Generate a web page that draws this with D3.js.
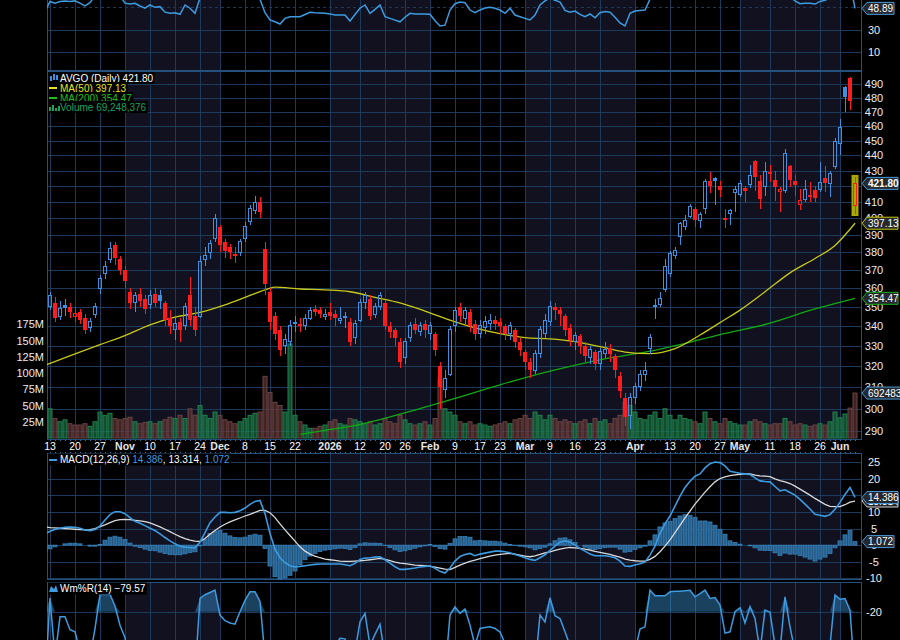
<!DOCTYPE html>
<html>
<head>
<meta charset="utf-8">
<title>AVGO daily</title>
<style>
  body { margin: 0; background: #000; }
  text { font-family: "Liberation Sans", Arial, Helvetica, sans-serif; }
</style>
</head>
<body>
<script src="https://cdn.jsdelivr.net/npm/d3@7/dist/d3.min.js"></script>
<script>
var width = 900, height = 640;
var plotLeft = 47, plotRight = 862;
var firstIdx = -1; // first bar (Oct 10) sits half behind the frame

// x axis: trading-day index (Oct 13 = 0) and label
var tickIdx = [0, 5, 10, 15, 20, 25, 30, 34, 39, 44, 49, 56, 62, 67, 71, 76, 81, 86, 90, 95, 100, 105, 110, 117, 124, 129, 134, 138, 144, 149, 154, 158];
var tickText = ['13', '20', '27', 'Nov', '10', '17', '24', 'Dec', '8', '15', '22', '2026', '12', '20', '26', 'Feb', '9', '17', '23', 'Mar', '9', '16', '23', 'Apr', '13', '20', '27', 'May', '11', '18', '26', 'Jun'];
var shadedMonths = [[15, 34], [56, 76], [95, 117], [138, 158]];

// daily bars
var open = [345, 350, 352, 345, 351, 350, 345, 347, 344, 339,
  346, 360, 368, 376, 384, 376, 370, 358, 352, 357,
  354, 351, 357, 356, 352, 344, 338, 342, 340, 356,
  345, 345, 376, 380, 388, 395, 386, 383, 378, 380,
  388, 398, 405, 410, 382, 358, 345, 338, 330, 332,
  342, 341, 340, 344, 349, 348, 345, 347, 346, 343,
  345, 342, 334, 343, 352, 354, 346, 350, 352, 340,
  338, 332, 324, 334, 341, 337, 341, 336, 336, 320,
  309, 316, 340, 350, 344, 347, 341, 336, 339, 341,
  343, 342, 340, 336, 338, 332, 327, 322, 318, 326,
  336, 342, 350, 348, 345, 339, 332, 335, 330, 324,
  327, 321, 326, 329, 325, 315, 305, 297, 305, 310,
  316, 328.6, 351, 351, 359, 368, 378, 389, 395, 401,
  406, 399, 406, 423, 425.5, 420, 400.5, 403, 416, 415,
  419, 421, 436, 423, 420, 429, 424, 416.4, 417, 433,
  423, 408.5, 411.6, 414.5, 417.5, 418, 425.5, 422, 433, 448.3,
  488, 494.7, 408];
var high = [352, 358, 355, 353, 354, 352, 350, 349, 346, 344,
  352, 367, 375, 386, 386, 378, 372, 360, 358, 360,
  356, 359, 360, 359, 353, 348, 345, 344, 352, 366,
  350, 378, 383, 387, 403, 396, 388, 385, 383, 388,
  398, 408, 414, 413, 386, 360, 347, 340, 336, 343,
  345, 344, 346, 350, 351, 350, 349, 352, 348, 350,
  347, 344, 343, 354, 358, 356, 352, 358, 353, 342,
  339, 334, 334, 342, 344, 342, 343, 342, 337, 322,
  318, 340, 350, 352, 350, 349, 343, 343, 345, 346,
  345, 344, 341, 342, 339, 334, 328, 324, 328, 340,
  346, 353, 352, 350, 346, 341, 337, 336, 332, 330,
  328, 329, 332, 331, 326, 317, 307, 307, 312, 318,
  322, 336, 354, 358, 376, 381, 383, 398, 402, 409,
  407, 404, 424.5, 429, 426, 423, 406, 406, 420, 424,
  420, 434, 437, 427, 435.5, 434, 430, 419.6, 444, 433.5,
  427, 418, 424, 422.6, 420, 435.6, 433, 430, 452, 465,
  488.5, 495.5, 425.6];
var low = [323, 348, 342, 343, 345, 344, 342, 341, 336, 337,
  344, 357, 365, 374, 373, 367, 360, 349, 347, 350,
  346, 349, 350, 349, 340, 336, 333, 332, 338, 340,
  335, 344, 372, 376, 386, 380, 377, 376, 374, 378,
  386, 396, 403, 400, 356, 338, 333, 325, 326, 330,
  337, 337, 338, 343, 345, 344, 343, 343, 340, 341,
  339, 330, 331, 342, 349, 343, 344, 348, 338, 334,
  330, 319, 321, 332, 336, 335, 334, 333, 325, 300,
  305, 315, 337, 342, 341, 337, 333, 334, 336, 338,
  338, 336, 333, 333, 329, 325, 318, 314, 316, 324,
  334, 340, 343, 340, 335, 330, 328, 326, 322, 321,
  318, 318, 324, 322, 314, 305, 292, 291, 302, 308,
  313, 326, 343.5, 349.7, 358, 366, 376, 384, 393, 400,
  395, 394, 403, 416, 408, 413, 394, 396, 404, 413,
  410, 419, 417, 406, 413.5, 422.6, 410.5, 404, 416, 419.5,
  414, 405, 410, 410, 410, 416.5, 416.5, 413, 431, 440,
  470, 471, 403];
var close = [324, 356, 344, 349, 349.5, 347, 346.5, 343, 338, 342,
  350, 365, 372, 382, 377, 370, 364, 352, 356, 353,
  349, 356, 352, 353, 343, 340, 341, 338, 350, 343,
  338, 375, 378, 385, 400, 384, 381, 380, 379, 386,
  395, 406, 410, 404, 362, 342, 336, 328, 333, 340,
  341, 340, 344, 348, 347, 346, 346, 345, 344, 344,
  344, 332, 341, 352, 356, 345, 350, 356, 340, 337,
  334, 322, 332, 340, 338, 340, 338, 340, 328, 310,
  314, 338, 348, 345, 348, 340, 336, 340, 342, 343,
  341, 340, 336, 340, 332, 328, 322, 318, 326, 338,
  343, 350, 348, 346, 338, 333, 335, 330, 325, 328,
  321, 327, 328, 326, 318, 308, 296, 305, 310, 316,
  318, 334.2, 350, 354.6, 372, 379.5, 381, 397, 399, 407,
  399, 402.5, 423, 420, 423, 417.5, 399, 405, 418, 422,
  417, 427, 426, 412, 429.5, 427.5, 419.5, 417.6, 441.5, 424,
  421, 411, 417.7, 413, 412.8, 422.6, 422, 428, 449.5, 458.7,
  481, 477.7, 421.8];
// volume, millions
var volume = [28, 45, 30, 25, 28, 22, 20, 20, 22, 18,
  25, 40, 35, 38, 30, 28, 30, 32, 25, 22,
  24, 25, 22, 25, 28, 32, 30, 35, 30, 45,
  35, 50, 35, 30, 40, 35, 28, 25, 22, 25,
  30, 35, 38, 40, 95, 70, 55, 50, 40, 145,
  35, 25, 20, 15, 15, 18, 20, 25, 28, 22,
  20, 30, 28, 25, 22, 25, 20, 22, 30, 25,
  22, 35, 28, 22, 20, 22, 25, 20, 30, 90,
  45, 40, 35, 25, 22, 25, 20, 22, 20, 18,
  20, 22, 25, 22, 28, 30, 35, 30, 40, 35,
  28, 35, 30, 25, 28, 25, 22, 25, 28, 22,
  30, 25, 28, 22, 30, 35, 55, 50, 40, 30,
  28, 35, 40, 30, 45, 35, 28, 35, 30, 28,
  25, 22, 40, 30, 25, 22, 30, 25, 22, 20,
  20, 25, 28, 25, 22, 20, 22, 22, 30, 25,
  20, 22, 20, 18, 20, 22, 20, 25, 40, 31,
  37, 46, 69.248376];

// moving averages, read at sample bars
var ma50Idx = [-1, 10, 15, 20, 25, 30, 35, 40, 43, 45, 50, 55, 60, 65, 70, 75, 80, 85, 90, 95, 100, 105, 110, 115, 120, 125, 130, 135, 138, 143, 148, 153, 157, 161];
var ma50Val = [320.3, 330.5, 335, 340.5, 344.5, 347, 351, 356, 359, 360.5, 359.5, 359, 358, 355, 352, 347.7, 343, 339, 336, 334, 333.4, 332, 329.5, 326.8, 326, 328.5, 335.3, 343.3, 348.2, 358, 368.4, 376.5, 384, 397.13];
var ma200Idx = [50, 55, 60, 70, 80, 90, 100, 110, 120, 130, 134, 143, 153, 161];
var ma200Val = [288.5, 290.3, 292, 297.5, 304, 311, 317.5, 323, 327.2, 333, 335.5, 340.7, 348.8, 354.47];

// indicators
var rsi = [46, 55, 53.5, 55, 55.5, 55, 55.5, 53.5, 51, 54,
  60, 66, 69, 72, 67, 60, 53.5, 52.7, 53.4, 51,
  49, 51.9, 49.8, 50.4, 45.5, 44.5, 45, 43.6, 51.9, 49,
  44.5, 58, 60, 62, 66, 62, 60, 60, 59, 62,
  65, 66, 68, 57, 45, 38.6, 37, 35, 40, 41.5,
  41.5, 41.5, 43.5, 45.4, 45, 44.8, 44.5, 44, 43, 43,
  43, 37.7, 43.5, 49, 51.9, 44.5, 48, 51.9, 41.5, 40,
  38.5, 37, 41, 44.5, 44, 44, 43.8, 43.6, 38, 33.3,
  34, 47.4, 53, 54.5, 53.9, 47.4, 45, 47.5, 49.2, 49.8,
  49, 47.4, 44.5, 49, 43, 41.5, 40, 38.6, 43, 51.9,
  55.5, 58, 56, 54.5, 47, 45.5, 46.5, 43.5, 41.5, 43.9,
  40.5, 45, 46, 45.4, 41, 36, 33.3, 44.5, 46.5, 47,
  47.4, 57, 63, 65, 70, 72, 73, 76, 77, 78,
  74, 73, 77, 76, 77, 74, 65, 66, 69, 69,
  67, 69, 64, 60, 63, 62, 60, 58, 64, 59,
  55.5, 53, 53.5, 53.5, 52.7, 55, 56, 58, 66, 70,
  74, 72, 48.89];
var macd = [3.4, 4.2, 4.7, 5.1, 5.4, 5.5, 5.4, 5.1, 4.6, 4.4,
  4.7, 5.8, 7.6, 9.2, 10.1, 10.1, 9.5, 8.3, 7.2, 6.6,
  5.9, 5.1, 4.4, 3.4, 2.3, 1.3, 0.4, -0.3, -0.6, -0.7,
  -0.8, 0.9, 3.8, 6.8, 8.5, 9.9, 9.9, 9.8, 9.9, 10.4,
  11.2, 12.3, 13.2, 13.5, 9.5, 3.5, -1.2, -3.8, -5.3, -6.2,
  -6.6, -6.4, -6.2, -6, -5.8, -5.7, -5.7, -5.7, -5.7, -5.7,
  -5.9, -6.2, -5.5, -4.3, -3.9, -3.8, -3.6, -3.5, -4.4, -5.4,
  -6.5, -7.3, -7.3, -7.1, -6.9, -6.6, -6.4, -6.2, -7, -7.9,
  -8.4, -6.9, -4.8, -3.4, -2.8, -2.5, -3.2, -2.7, -2.4, -2.1,
  -1.8, -1.8, -2, -2.3, -2.8, -3.3, -3.8, -4.3, -4.6, -3.8,
  -2.9, -1.6, -0.3, 0.9, 1.3, 0.9, 0, -1, -1.8, -2.7,
  -3.2, -3.2, -3.2, -3.4, -3.8, -4.8, -6.3, -6.4, -6, -5.6,
  -5.1, -3, -0.3, 3.5, 6.4, 8.8, 11.8, 14.8, 17.4, 19.3,
  20.8, 21.5, 23.3, 24.6, 25.1, 24.9, 23.9, 22.3, 22, 21.7,
  21.5, 21.3, 20.3, 19.4, 19.2, 19.1, 17.7, 16.4, 16.7, 15.9,
  15.1, 13.8, 12.4, 10.9, 9.3, 9, 8.7, 9.2, 10.8, 12.9,
  15.3, 17.4, 14.386];
var signal = [5.5, 5.3, 5.2, 5.1, 5, 4.9, 4.8, 4.7, 4.6, 4.7,
  5, 5.6, 6.1, 6.8, 7.4, 7.7, 7.8, 7.7, 7.5, 7.3,
  7.1, 6.7, 6.1, 5.5, 4.8, 4.1, 3.3, 2.6, 2, 1.5,
  1.2, 1.1, 2, 3.3, 4.4, 5.5, 6.3, 7, 7.6, 8.2,
  8.8, 9.3, 9.9, 10.5, 10.5, 9.8, 8.3, 6.4, 4.6, 2.9,
  1.2, -0.5, -1.8, -2.7, -3.3, -3.8, -4.2, -4.4, -4.6, -4.8,
  -4.9, -4.9, -4.8, -4.7, -4.6, -4.4, -4.2, -4, -4.3, -4.7,
  -5.1, -5.4, -5.6, -5.8, -6, -6.1, -6.2, -6.4, -6.6, -6.9,
  -7.2, -7.4, -6.7, -6, -5.4, -4.9, -4.5, -4.1, -3.7, -3.3,
  -3, -2.8, -2.6, -2.5, -2.7, -3, -3.3, -3.5, -3.2, -2.8,
  -2.3, -2, -1.6, -1.2, -0.9, -0.7, -0.8, -1, -1.2, -1.5,
  -1.9, -2.2, -2.5, -2.8, -3.2, -3.6, -4.2, -4.5, -4.7, -4.8,
  -4.8, -4.3, -3.4, -2, -0.3, 1.6, 3.8, 6, 8.2, 10.3,
  12.4, 14.2, 16, 17.6, 19.1, 20.1, 20.6, 21, 21.2, 21.4,
  21.5, 21.5, 21.1, 20.9, 20.8, 20.7, 20, 19.5, 19.1, 18.6,
  17.8, 16.9, 16, 15.1, 14.1, 13.2, 12.3, 11.7, 11.6, 11.6,
  12.2, 13, 13.314];
var hist = [-2.1, -1.1, -0.5, 0, 0.4, 0.6, 0.6, 0.4, 0, -0.3,
  -0.3, 0.2, 1.5, 2.4, 2.7, 2.4, 1.7, 0.6, -0.3, -0.7,
  -1.2, -1.6, -1.7, -2.1, -2.5, -2.8, -2.9, -2.9, -2.6, -2.2,
  -2, -0.2, 1.8, 3.5, 4.1, 4.4, 3.6, 2.8, 2.3, 2.2,
  2.4, 3, 3.3, 3, -1, -6.3, -9.5, -10.2, -9.9, -9.1,
  -7.8, -5.9, -4.4, -3.3, -2.5, -1.9, -1.5, -1.3, -1.1, -0.9,
  -1, -1.3, -0.7, 0.4, 0.7, 0.6, 0.6, 0.5, -0.1, -0.7,
  -1.4, -1.9, -1.7, -1.3, -0.9, -0.5, -0.2, 0.2, -0.4, -1,
  -1.2, 0.5, 1.9, 2.6, 2.6, 2.4, 1.3, 1.4, 1.3, 1.2,
  1.2, 1, 0.6, 0.2, -0.1, -0.3, -0.5, -0.8, -1.4, -1,
  -0.6, 0.4, 1.3, 2.1, 2.2, 1.6, 0.8, 0, -0.6, -1.2,
  -1.3, -1, -0.7, -0.6, -0.6, -1.2, -2.1, -1.9, -1.3, -0.8,
  -0.3, 1.3, 3.1, 5.5, 6.7, 7.2, 8, 8.8, 9.2, 9,
  8.4, 7.3, 7.3, 7, 6, 4.8, 3.3, 1.3, 0.8, 0.3,
  0, -0.2, -0.8, -1.5, -1.6, -1.6, -2.3, -3.1, -2.4, -2.7,
  -2.7, -3.1, -3.6, -4.2, -4.8, -4.2, -3.6, -2.5, -0.8, 1.3,
  3.1, 4.4, 1.072];
var willr = [-85, -8, -60, -24.5, -24.5, -36, -37.8, -55, -75, -60,
  -35, -4.7, -4.7, -4.7, -15, -32, -43, -70, -65, -60,
  -70, -62, -65, -70, -85, -90, -92, -85, -70, -80,
  -75, -8.3, -5, -3, -0.9, -23, -28, -30, -31, -20,
  -10, -2.4, -2.4, -11, -60, -85, -92, -95, -80, -70,
  -68, -70, -65, -60, -62, -58, -60, -62, -50, -43.6,
  -44, -70, -55, -29, -21.5, -50, -40, -31, -60, -70,
  -80, -85, -65, -55, -50, -55, -60, -65, -80, -95,
  -75, -23, -15.6, -21.5, -17.7, -31.9, -50, -34.8, -34, -33.4,
  -34.8, -38, -48, -55, -65, -75, -85, -88, -70, -23,
  -29, -7.7, -23.6, -26, -37.8, -50, -55, -60, -70, -65,
  -75, -62, -60, -58, -75, -85, -95, -72, -55, -35.4,
  -33.4, -0.9, -5.9, -5.9, -5.9, -2.4, -2, -1.8, -1.4, -1,
  -6.8, -4, -0.9, -8.3, -7.5, -14, -39, -37.8, -20, -16.5,
  -30, -15.6, -26, -55, -18.6, -20.6, -50, -55, -6.8, -33.4,
  -55, -75, -60, -62, -65, -55, -50, -50, -5.3, -9,
  -8.3, -18.6, -79.57];

// axis ticks (labels fully hidden under a value tag are left out)
var priceGrid = d3.range(290, 500, 10);
var priceTicks = priceGrid.filter(function(d) { return d !== 420; });
var volTicks = [25, 50, 75, 100, 125, 150, 175];
var macdTicks = [-10, -5, 0, 5, 10, 20, 25];
var macdGrid = d3.range(-10, 30, 5);
var rsiTicks = [10, 30];
var rsiGrid = [10, 30, 50];
var wrTicks = [-20];

// colours
var gridColor = '#1b3a5c', frameColor = '#24507e', shadeColor = '#111120';
var upColor = '#3d8fe0', downColor = '#ff1c1c', lineBlue = '#3d9be0';

var svg = d3.select('body').append('svg')
  .attr('width', width).attr('height', height)
  .style('display', 'block').style('background', '#000');

var nBars = close.length;
var lastIdx = firstIdx + nBars - 1;
var x = d3.scaleLinear().domain([firstIdx, lastIdx]).range([45, 855]);
var yPrice = d3.scaleLog().domain([290, 490]).range([431, 84.3]);
var yVol = d3.scaleLinear().domain([0, 175]).range([438, 324.4]);
var yRsi = d3.scaleLinear().domain([10, 30]).range([52.3, 29.7]);
var yMacd = d3.scaleLinear().domain([-10, 25]).range([578.3, 462.3]);
var yWr = d3.scaleLinear().domain([-20, 0]).range([611.7, 589.1]);

var panels = [
  {top: -30, bottom: 71},
  {top: 71, bottom: 440},
  {top: 453, bottom: 580},
  {top: 582, bottom: 700}
];

var defs = svg.append('defs');
panels.forEach(function(p, k) {
  defs.append('clipPath').attr('id', 'clip' + k)
    .append('rect')
    .attr('x', plotLeft).attr('y', p.top)
    .attr('width', plotRight - plotLeft).attr('height', p.bottom - p.top);
});

// backgrounds: month shading and vertical grid
panels.forEach(function(p, k) {
  var g = svg.append('g').attr('clip-path', 'url(#clip' + k + ')');
  g.selectAll('.shade').data(shadedMonths).enter().append('rect')
    .attr('x', function(d) { return x(d[0]); })
    .attr('width', function(d) { return x(d[1]) - x(d[0]); })
    .attr('y', p.top).attr('height', p.bottom - p.top)
    .attr('fill', shadeColor);
  g.selectAll('.vgrid').data(tickIdx).enter().append('line')
    .attr('x1', function(d) { return x(d) + 0.5; })
    .attr('x2', function(d) { return x(d) + 0.5; })
    .attr('y1', p.top).attr('y2', p.bottom)
    .attr('stroke', gridColor);
});

function hgrid(k, ticks, scale, dash) {
  svg.append('g').attr('clip-path', 'url(#clip' + k + ')')
    .selectAll('line').data(ticks).enter().append('line')
    .attr('x1', plotLeft).attr('x2', plotRight)
    .attr('y1', function(d) { return Math.round(scale(d)) + 0.5; })
    .attr('y2', function(d) { return Math.round(scale(d)) + 0.5; })
    .attr('stroke', gridColor)
    .attr('stroke-dasharray', function(d) { return dash && dash(d) ? '3,3' : null; });
}
hgrid(0, rsiGrid, yRsi, function(d) { return d === 50; });
hgrid(1, priceGrid, yPrice);
hgrid(2, macdGrid, yMacd);
hgrid(3, wrTicks, yWr);

// frames
panels.forEach(function(p) {
  svg.append('rect')
    .attr('x', plotLeft + 0.5).attr('y', p.top + 0.5)
    .attr('width', plotRight - plotLeft - 1).attr('height', p.bottom - p.top - 1)
    .attr('fill', 'none').attr('stroke', frameColor);
});

var bars = d3.range(nBars).map(function(k) {
  return {
    i: k + firstIdx, o: open[k], h: high[k], l: low[k], c: close[k], v: volume[k],
    up: k > 0 && close[k] >= close[k - 1]
  };
});

// ---- main panel ----
var main = svg.append('g').attr('clip-path', 'url(#clip1)');

main.selectAll('.vol').data(bars).enter().append('rect')
  .attr('x', function(d) { return x(d.i) - 2; })
  .attr('width', 4)
  .attr('y', function(d) { return yVol(d.v); })
  .attr('height', function(d) { return yVol(0) - yVol(d.v); })
  .attr('fill', function(d) { return d.up ? 'rgba(24,110,66,0.7)' : 'rgba(92,50,50,0.7)'; })
  .attr('stroke', function(d) { return d.up ? '#22804f' : '#6a4444'; })
  .attr('stroke-width', 1);

var maLine = d3.line()
  .x(function(d) { return x(d[0]); })
  .y(function(d) { return yPrice(d[1]); })
  .curve(d3.curveMonotoneX);
main.append('path').datum(d3.zip(ma200Idx, ma200Val))
  .attr('d', maLine).attr('fill', 'none').attr('stroke', '#12a812').attr('stroke-width', 1.3);
main.append('path').datum(d3.zip(ma50Idx, ma50Val))
  .attr('d', maLine).attr('fill', 'none').attr('stroke', '#c8c81a').attr('stroke-width', 1.3);

// highlight of the current bar
var lastBar = bars[bars.length - 1];
main.append('rect')
  .attr('x', x(lastBar.i) - 3.5).attr('width', 7)
  .attr('y', yPrice(lastBar.h) - 2.5)
  .attr('height', yPrice(lastBar.l) - yPrice(lastBar.h) + 5)
  .attr('fill', '#a8a800');

var candle = main.selectAll('.candle').data(bars).enter().append('g')
  .attr('shape-rendering', 'crispEdges');
candle.each(function(d) {
  var g = d3.select(this);
  var col = d.up ? upColor : downColor;
  var cx = x(d.i);
  var top = yPrice(Math.max(d.o, d.c)), bot = yPrice(Math.min(d.o, d.c));
  if (d.c >= d.o) {
    g.append('line').attr('x1', cx + 0.5).attr('x2', cx + 0.5)
      .attr('y1', yPrice(d.h)).attr('y2', top).attr('stroke', col);
    g.append('line').attr('x1', cx + 0.5).attr('x2', cx + 0.5)
      .attr('y1', bot).attr('y2', yPrice(d.l)).attr('stroke', col);
    g.append('rect').attr('x', cx - 1.5).attr('width', 3)
      .attr('y', top).attr('height', Math.max(1, bot - top))
      .attr('fill', 'none').attr('stroke', col);
  } else {
    g.append('line').attr('x1', cx + 0.5).attr('x2', cx + 0.5)
      .attr('y1', yPrice(d.h)).attr('y2', yPrice(d.l)).attr('stroke', col);
    g.append('rect').attr('x', cx - 2).attr('width', 4)
      .attr('y', top).attr('height', Math.max(1, bot - top))
      .attr('fill', col);
  }
});

// ---- RSI (top) ----
var rsiLine = d3.line()
  .x(function(d, k) { return x(k + firstIdx); })
  .y(function(d) { return yRsi(d); });
svg.append('g').attr('clip-path', 'url(#clip0)')
  .append('path').datum(rsi).attr('d', rsiLine)
  .attr('fill', 'none').attr('stroke', lineBlue).attr('stroke-width', 1.5);

// ---- MACD ----
var macdG = svg.append('g').attr('clip-path', 'url(#clip2)');
macdG.selectAll('.hist').data(hist).enter().append('rect')
  .attr('x', function(d, k) { return x(k + firstIdx) - 2; })
  .attr('width', 4)
  .attr('y', function(d) { return Math.min(yMacd(d), yMacd(0)); })
  .attr('height', function(d) { return Math.abs(yMacd(d) - yMacd(0)); })
  .attr('fill', '#28628f').attr('stroke', '#3a82bb').attr('stroke-width', 0.8);
var macdLine = d3.line()
  .x(function(d, k) { return x(k + firstIdx); })
  .y(function(d) { return yMacd(d); });
macdG.append('path').datum(signal).attr('d', macdLine)
  .attr('fill', 'none').attr('stroke', '#d9d9d9').attr('stroke-width', 1.3);
macdG.append('path').datum(macd).attr('d', macdLine)
  .attr('fill', 'none').attr('stroke', lineBlue).attr('stroke-width', 1.6);

// ---- Williams %R ----
var wrG = svg.append('g').attr('clip-path', 'url(#clip3)');
var wrArea = d3.area()
  .x(function(d, k) { return x(k + firstIdx); })
  .y0(yWr(-20))
  .y1(function(d) { return yWr(Math.max(d, -20)); });
wrG.append('path').datum(willr).attr('d', wrArea)
  .attr('fill', 'rgba(61,155,224,0.42)');
wrG.append('path').datum(willr)
  .attr('d', d3.line().x(function(d, k) { return x(k + firstIdx); }).y(function(d) { return yWr(d); }))
  .attr('fill', 'none').attr('stroke', lineBlue).attr('stroke-width', 1.5);

// ---- axes ----
function rightLabels(ticks, scale, fmt) {
  svg.append('g').selectAll('text').data(ticks).enter().append('text')
    .attr('x', 874).attr('y', function(d) { return scale(d) + 4; })
    .attr('text-anchor', 'middle').attr('font-size', 11).attr('fill', '#ececec')
    .text(fmt || function(d) { return d; });
}
rightLabels(rsiTicks, yRsi);
rightLabels(priceTicks, yPrice);
rightLabels(macdTicks, yMacd);
rightLabels(wrTicks, yWr);

svg.append('g').selectAll('text').data(volTicks).enter().append('text')
  .attr('x', 44).attr('y', function(d) { return yVol(d) + 4; })
  .attr('text-anchor', 'end').attr('font-size', 11).attr('fill', '#ececec')
  .text(function(d) { return d + 'M'; });

// day ticks along the date band
var dots = svg.append('g').attr('fill', '#3c6c9c');
d3.range(0, lastIdx + 1).forEach(function(i) {
  dots.append('rect').attr('x', x(i)).attr('y', 440).attr('width', 1).attr('height', 1);
  dots.append('rect').attr('x', x(i)).attr('y', 452).attr('width', 1).attr('height', 1);
});

svg.append('g').selectAll('text').data(tickIdx).enter().append('text')
  .attr('x', function(d) { return x(d); })
  .attr('y', 450)
  .attr('text-anchor', 'middle')
  .attr('font-size', 10.5)
  .attr('font-weight', function(d, k) { return /^[A-Z]/.test(tickText[k]) || tickText[k].length === 4 ? 'bold' : 'normal'; })
  .attr('fill', function(d, k) { return /^[A-Z]/.test(tickText[k]) || tickText[k].length === 4 ? '#e6e6e6' : '#ffffff'; })
  .text(function(d, k) { return tickText[k]; });

// ---- legends ----
function legendRow(y, parts) {
  var g = svg.append('g');
  var t = g.append('text').attr('x', 60).attr('y', y).attr('font-size', 10);
  parts.forEach(function(p) { t.append('tspan').attr('fill', p[1]).text(p[0]); });
  var b = t.node().getBBox();
  g.insert('rect', 'text')
    .attr('x', 48).attr('y', b.y - 0.5)
    .attr('width', b.x + b.width - 48 + 1).attr('height', b.height + 1)
    .attr('fill', '#000');
  return g;
}
var fmt2 = d3.format('.2f');
var r1 = legendRow(81.5, [['AVGO (Daily) ' + fmt2(lastBar.c), '#ffffff']]);
r1.append('rect').attr('x', 50).attr('y', 76).attr('width', 2).attr('height', 5).attr('fill', upColor);
r1.append('rect').attr('x', 53).attr('y', 74).attr('width', 2).attr('height', 6).attr('fill', upColor);
r1.append('rect').attr('x', 56).attr('y', 75).attr('width', 2).attr('height', 5).attr('fill', upColor);
var r2 = legendRow(91.5, [['MA(50) ' + fmt2(ma50Val[ma50Val.length - 1]), '#e6e619']]);
r2.append('rect').attr('x', 49).attr('y', 87).attr('width', 8).attr('height', 2).attr('fill', '#e6e619');
var r3 = legendRow(101.5, [['MA(200) ' + fmt2(ma200Val[ma200Val.length - 1]), '#1ec01e']]);
r3.append('rect').attr('x', 49).attr('y', 97).attr('width', 8).attr('height', 2).attr('fill', '#1ec01e');
var r4 = legendRow(110.5, [['Volume ' + d3.format(',')(Math.round(volume[volume.length - 1] * 1e6)), '#19a35e']]);
[[49, 4], [52, 6], [55, 3], [58, 5]].forEach(function(b) {
  r4.append('rect').attr('x', b[0]).attr('y', 111 - b[1]).attr('width', 2).attr('height', b[1]).attr('fill', '#19a35e');
});

var fmt3 = d3.format('.3f');
var rm = legendRow(463, [
  ['MACD(12,26,9) ', '#ffffff'], [fmt3(macd[macd.length - 1]), lineBlue],
  [', ' + fmt3(signal[signal.length - 1]), '#ffffff'], [', ', '#ffffff'], [fmt3(hist[hist.length - 1]), lineBlue]
]);
rm.append('rect').attr('x', 49).attr('y', 459).attr('width', 8).attr('height', 2).attr('fill', lineBlue);

var rw = legendRow(592, [['Wm%R(14) ' + fmt2(willr[willr.length - 1]), '#ffffff']]);
rw.append('path').attr('d', 'M49,592L51,586L54,589L56,585L58,592Z').attr('fill', lineBlue);

// ---- value tags on the right axis ----
function tag(y, label, color, w, bold) {
  var tip = 862, x0 = tip + 5;
  var g = svg.append('g');
  g.append('path')
    .attr('d', 'M' + tip + ',' + y + 'L' + x0 + ',' + (y - 6) + 'H' + (x0 + w) + 'V' + (y + 6) + 'H' + x0 + 'Z')
    .attr('fill', '#25292f').attr('stroke', color).attr('stroke-width', 1);
  g.append('text').attr('x', x0 + 1).attr('y', y + 3.6)
    .attr('font-size', 10).attr('fill', '#ffffff')
    .attr('font-weight', bold ? 'bold' : 'normal')
    .text(label);
}
tag(yRsi(rsi[rsi.length - 1]), fmt2(rsi[rsi.length - 1]), '#4a9ad8', 27);
tag(yPrice(lastBar.c), fmt2(lastBar.c), '#4a9ad8', 31, true);
tag(yPrice(ma50Val[ma50Val.length - 1]), fmt2(ma50Val[ma50Val.length - 1]), '#c8c800', 31);
tag(yPrice(ma200Val[ma200Val.length - 1]), fmt2(ma200Val[ma200Val.length - 1]), '#17b017', 31);
tag(yVol(lastBar.v), String(Math.round(lastBar.v * 1e6)), '#4a9ad8', 40);
tag(yMacd(signal[signal.length - 1]), fmt3(signal[signal.length - 1]), '#cfcfcf', 31);
tag(yMacd(macd[macd.length - 1]), fmt3(macd[macd.length - 1]), '#4a9ad8', 31);
tag(yMacd(hist[hist.length - 1]), fmt3(hist[hist.length - 1]), '#4a9ad8', 27);
</script>
</body>
</html>
